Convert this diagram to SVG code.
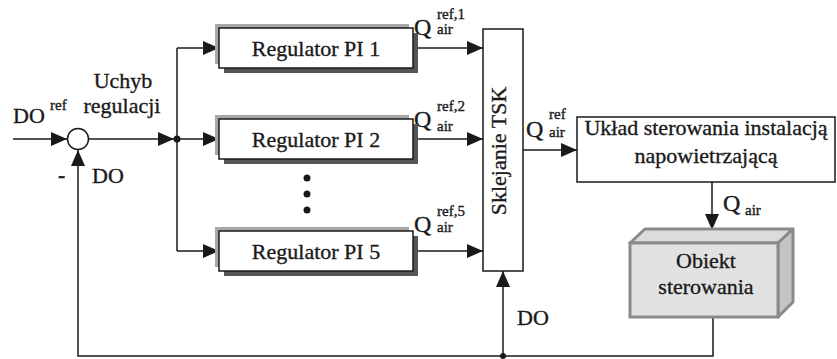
<svg xmlns="http://www.w3.org/2000/svg" width="837" height="359" viewBox="0 0 837 359">
<style>
text{font-family:"Liberation Serif","Times New Roman",serif;fill:#1a1a1a;stroke:#1a1a1a;stroke-width:0.35}
.t{font-size:22px}
.q{font-size:24px}
.s{font-size:15px}
.ln{stroke:#1a1a1a;stroke-width:1.5;fill:none}
.box{fill:#fff;stroke:#1a1a1a;stroke-width:1.5}
.sh1{fill:#a8a8a8}
.sh2{fill:#555}
</style>
<defs>
<marker id="ah" markerUnits="userSpaceOnUse" markerWidth="16" markerHeight="14" refX="16" refY="7" orient="auto">
<path d="M0,0 L16,7 L0,14 Z" fill="#1a1a1a"/>
</marker>
</defs>
<g id="connectors">
<line class="ln" x1="13" y1="139" x2="67" y2="139" marker-end="url(#ah)"/>
<line class="ln" x1="88.5" y1="139" x2="174" y2="139" marker-end="url(#ah)"/>
<circle cx="177" cy="139" r="3.5" fill="#1a1a1a"/>
<line class="ln" x1="177" y1="48" x2="177" y2="251"/>
<line class="ln" x1="177" y1="48" x2="219" y2="48" marker-end="url(#ah)"/>
<line class="ln" x1="177" y1="139" x2="219" y2="139" marker-end="url(#ah)"/>
<line class="ln" x1="177" y1="251" x2="219" y2="251" marker-end="url(#ah)"/>
<line class="ln" x1="418" y1="48" x2="483" y2="48" marker-end="url(#ah)"/>
<line class="ln" x1="418" y1="139" x2="483" y2="139" marker-end="url(#ah)"/>
<line class="ln" x1="418" y1="251" x2="483" y2="251" marker-end="url(#ah)"/>
<line class="ln" x1="523" y1="150" x2="577" y2="150" marker-end="url(#ah)"/>
<line class="ln" x1="712" y1="182" x2="712" y2="230" marker-end="url(#ah)"/>
<polyline class="ln" points="713,317 713,356 78,356 78,150" marker-end="url(#ah)"/>
<line class="ln" x1="503" y1="356" x2="503" y2="271" marker-end="url(#ah)"/>
<circle cx="503" cy="356" r="3" fill="#1a1a1a"/>
</g>
<g id="sum">
<circle cx="78" cy="139" r="10.5" fill="#fff" stroke="#1a1a1a" stroke-width="1.5"/>
</g>
<g id="labels">
<text class="t" x="13" y="123">DO</text>
<text class="s" x="50" y="110">ref</text>
<text class="t" x="123" y="88" text-anchor="middle">Uchyb</text>
<text class="t" x="122" y="113" text-anchor="middle">regulacji</text>
<text class="t" x="58" y="182" style="font-weight:bold">-</text>
<text class="t" x="92" y="183">DO</text>
<text class="t" x="517" y="325">DO</text>
<text class="q" x="414" y="35">Q</text>
<text class="s" x="437" y="19">ref,1</text>
<text class="s" x="437" y="34">air</text>
<text class="q" x="414" y="127">Q</text>
<text class="s" x="437" y="111">ref,2</text>
<text class="s" x="437" y="131">air</text>
<text class="q" x="414" y="232">Q</text>
<text class="s" x="437" y="216">ref,5</text>
<text class="s" x="437" y="232">air</text>
<text class="q" x="526" y="137">Q</text>
<text class="s" x="549" y="119">ref</text>
<text class="s" x="549" y="137">air</text>
<text class="q" x="723" y="211">Q</text>
<text class="s" x="745" y="215">air</text>
</g>
<g id="reg1">
<rect class="sh1" x="215" y="24" width="194" height="40"/>
<rect class="sh2" x="224" y="33" width="194" height="40"/>
<rect class="box" x="219" y="28" width="194" height="40"/>
<text class="t" x="316" y="56" text-anchor="middle">Regulator PI 1</text>
</g>
<g id="reg2">
<rect class="sh1" x="215" y="115" width="194" height="40"/>
<rect class="sh2" x="224" y="124" width="194" height="40"/>
<rect class="box" x="219" y="119" width="194" height="40"/>
<text class="t" x="316" y="147" text-anchor="middle">Regulator PI 2</text>
</g>
<g id="dots">
<circle cx="307" cy="178" r="3.5" fill="#1a1a1a"/>
<circle cx="307" cy="194" r="3.5" fill="#1a1a1a"/>
<circle cx="307" cy="210" r="3.5" fill="#1a1a1a"/>
</g>
<g id="reg5">
<rect class="sh1" x="215" y="227" width="194" height="40"/>
<rect class="sh2" x="224" y="236" width="194" height="40"/>
<rect class="box" x="219" y="231" width="194" height="40"/>
<text class="t" x="316" y="259" text-anchor="middle">Regulator PI 5</text>
</g>
<g id="tsk">
<rect class="box" x="483" y="29" width="40" height="242"/>
<text class="t" transform="translate(506,151) rotate(-90)" text-anchor="middle">Sklejanie TSK</text>
</g>
<g id="uklad">
<rect class="box" x="577" y="117" width="258" height="65"/>
<text class="t" x="706" y="135" text-anchor="middle">Układ sterowania instalacją</text>
<text class="t" x="706" y="163" text-anchor="middle">napowietrzającą</text>
</g>
<g id="obiekt">
<polygon points="630,243 645,229 793,229 778,243" fill="#dcdcdc" stroke="#8a8a8a" stroke-width="3" stroke-linejoin="round"/>
<polygon points="778,243 793,229 793,302 778,317" fill="#c4c4c4" stroke="#8a8a8a" stroke-width="3" stroke-linejoin="round"/>
<rect x="630" y="243" width="148" height="74" fill="#e2e2e2" stroke="#8a8a8a" stroke-width="3"/>
<text class="t" x="706" y="268" text-anchor="middle">Obiekt</text>
<text class="t" x="706" y="294" text-anchor="middle">sterowania</text>
</g>
</svg>
